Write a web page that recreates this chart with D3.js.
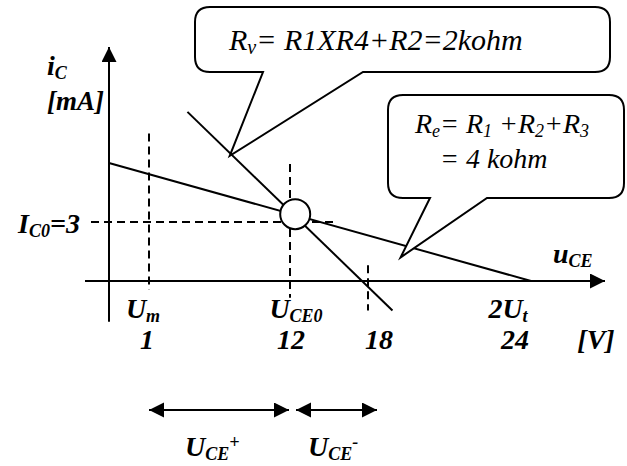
<!DOCTYPE html>
<html>
<head>
<meta charset="utf-8">
<script src="https://cdn.jsdelivr.net/npm/d3@7"></script>
</head>
<body style="margin:0">
<script>
// values (u in V, i in mA)
var xTicks = [1, 12, 18, 24];
var xTickNames = ["U", "U", "", "2U"];
var xTickSubs = ["m", "CE0", "", "t"];
var reLine = [{u: 0, i: 6}, {u: 24, i: 0}];          // Re = 4 kohm
var rvLine = [{u: 4.0, i: 8.6}, {u: 18.9, i: -1.5}]; // Rv = 2 kohm
var qPoint = {u: 12.4, i: 3.4};
var vGuides = [{u: 1, top: 7.5, bottom: -0.45}, {u: 12, top: 5.95, bottom: -0.85}, {u: 18, top: 0.8, bottom: -1.5}];
var hGuide = {i: 3, from: -0.45, to: 15.6};
var spans = [[1, 12], [12, 18]];
var spanNames = ["+", "-"];

var width = 627, height = 466;

var svg = d3.select("body").append("svg").attr("width", width).attr("height", height);

// schematic axis: ticks are not evenly spaced in the drawing
var x = d3.scaleLinear()
    .domain([0, 1, 12, 18, 24])
    .range([109, 149, 290, 368, 531]);
var y = d3.scaleLinear()
    .domain([0, 12])
    .range([281, 45]);

// text pieces drawn straight onto the svg, one text element per piece
// parts = [[text, shift]] shift 0 normal, 1 sub, -1 sup
function rich(px, py, size, parts, isBold, anchor) {
  var nodes = [], cx = 0;
  parts.forEach(function(p) {
    var shift = p[1] > 0 ? size * 0.13 : p[1] < 0 ? -size * 0.3 : 0;
    var fs = p[1] !== 0 ? Math.round(size * 0.66) : size;
    var t = svg.append("text").attr("x", 0).attr("y", py + shift)
      .attr("font-family", "Liberation Serif").attr("font-style", "italic")
      .attr("font-weight", isBold ? "bold" : "normal")
      .attr("font-size", fs).text(p[0].replace(/ /g, "\u00a0"));
    nodes.push([t, cx]);
    cx += t.node().getComputedTextLength();
  });
  var off = anchor === "middle" ? cx / 2 : anchor === "end" ? cx : 0;
  nodes.forEach(function(n) { n[0].attr("x", px - off + n[1]); });
}

var defs = svg.append("defs");
defs.append("marker")
    .attr("id", "head")
    .attr("markerUnits", "userSpaceOnUse")
    .attr("markerWidth", 16).attr("markerHeight", 16)
    .attr("refX", 15).attr("refY", 7.5)
    .attr("orient", "auto-start-reverse")
  .append("path")
    .attr("d", "M0,0L15,7.5L0,15Z")
    .attr("fill", "#000");

// axes
svg.append("line")
    .attr("x1", x(-0.6)).attr("x2", x(24) + 74)
    .attr("y1", y(0)).attr("y2", y(0))
    .attr("stroke", "#000").attr("stroke-width", 2)
    .attr("marker-end", "url(#head)");
svg.append("line")
    .attr("x1", x(0)).attr("x2", x(0))
    .attr("y1", y(-2.07)).attr("y2", y(11.9))
    .attr("stroke", "#000").attr("stroke-width", 2)
    .attr("marker-end", "url(#head)");

// dashed guides
svg.append("g")
  .selectAll("line")
  .data(vGuides)
  .enter()
  .append("line")
    .attr("x1", function(d) { return x(d.u); })
    .attr("x2", function(d) { return x(d.u); })
    .attr("y1", function(d) { return y(d.top); })
    .attr("y2", function(d) { return y(d.bottom); })
    .attr("stroke", "#000").attr("stroke-width", 2)
    .attr("stroke-dasharray", "8,5");
svg.append("line")
    .attr("x1", x(hGuide.from)).attr("x2", x(hGuide.to))
    .attr("y1", y(hGuide.i)).attr("y2", y(hGuide.i))
    .attr("stroke", "#000").attr("stroke-width", 2)
    .attr("stroke-dasharray", "8,5");

// load lines
var line = d3.line()
    .x(function(d) { return x(d.u); })
    .y(function(d) { return y(d.i); });
svg.append("g")
  .selectAll("path")
  .data([reLine, rvLine])
  .enter()
  .append("path")
    .attr("d", line)
    .attr("fill", "none")
    .attr("stroke", "#000")
    .attr("stroke-width", 2);

// operating point
svg.append("circle")
    .attr("cx", x(qPoint.u))
    .attr("cy", y(qPoint.i))
    .attr("r", 15)
    .attr("fill", "#fff")
    .attr("stroke", "#000")
    .attr("stroke-width", 2);

// point on a two-point line at a given u
function onLine(pts, u) {
  var t = (u - pts[0].u) / (pts[1].u - pts[0].u);
  return [x(u), y(pts[0].i + t * (pts[1].i - pts[0].i))];
}

// callout: rounded box with a wedge pointing to tip
function callout(x0, y0, x1, y1, tl, tr, tip) {
  var r = 15;
  return "M" + (x0 + r) + "," + y0 +
    "H" + (x1 - r) + "Q" + x1 + "," + y0 + " " + x1 + "," + (y0 + r) +
    "V" + (y1 - r) + "Q" + x1 + "," + y1 + " " + (x1 - r) + "," + y1 +
    "H" + tr + "L" + tip[0] + "," + tip[1] + "L" + tl + "," + y1 +
    "H" + (x0 + r) + "Q" + x0 + "," + y1 + " " + x0 + "," + (y1 - r) +
    "V" + (y0 + r) + "Q" + x0 + "," + y0 + " " + (x0 + r) + "," + y0 + "Z";
}

svg.append("path")
    .attr("d", callout(195, 7, 610, 72, 263, 363, onLine(rvLine, 7.3)))
    .attr("fill", "#fff").attr("stroke", "#000").attr("stroke-width", 2);
svg.append("path")
    .attr("d", callout(388, 95, 624, 198, 430, 487, onLine(reLine, 19.2)))
    .attr("fill", "#fff").attr("stroke", "#000").attr("stroke-width", 2);

rich(229, 50, 30, [["R", 0], ["v", 1], ["= R1XR4+R2=2kohm", 0]]);
rich(415, 133, 28, [["R", 0], ["e", 1], ["= R", 0], ["1", 1], [" +R", 0], ["2", 1], ["+R", 0], ["3", 1]]);
rich(440, 168, 28, [["= 4 kohm", 0]]);

rich(47, 75, 28, [["i", 0], ["C", 1]], true);
rich(47, 110, 27, [["[mA]", 0]], true);
rich(80, 233, 28, [["I", 0], ["C0", 1], ["=3", 0]], true, "end");
rich(553, 263, 28, [["u", 0], ["CE", 1]], true);

// tick names and values under the axis
var nameNudge = {1: -6, 12: 6, 24: -23};
var valueNudge = {1: -2, 12: 1, 18: 11, 24: -16};
xTicks.forEach(function(v, k) {
  if (xTickNames[k]) rich(x(v) + nameNudge[v], 318, 28, [[xTickNames[k], 0], [xTickSubs[k], 1]], true, "middle");
  rich(x(v) + valueNudge[v], 349, 28, [[String(v), 0]], true, "middle");
});
rich(596, 349, 28, [["[V]", 0]], true, "middle");

// swing arrows
svg.append("g")
  .selectAll("line")
  .data(spans)
  .enter()
  .append("line")
    .attr("x1", function(d, k) { return x(d[0]) + (k ? 6 : 0); })
    .attr("x2", function(d, k) { return x(d[1]) + (k ? 9 : -1); })
    .attr("y1", 410).attr("y2", 410)
    .attr("stroke", "#000").attr("stroke-width", 2)
    .attr("marker-start", "url(#head)")
    .attr("marker-end", "url(#head)");
spans.forEach(function(d, k) {
  rich(k ? 308 : 185, 456, 28, [["U", 0], ["CE", 1], [spanNames[k], -1]], true);
});
</script>
</body>
</html>
